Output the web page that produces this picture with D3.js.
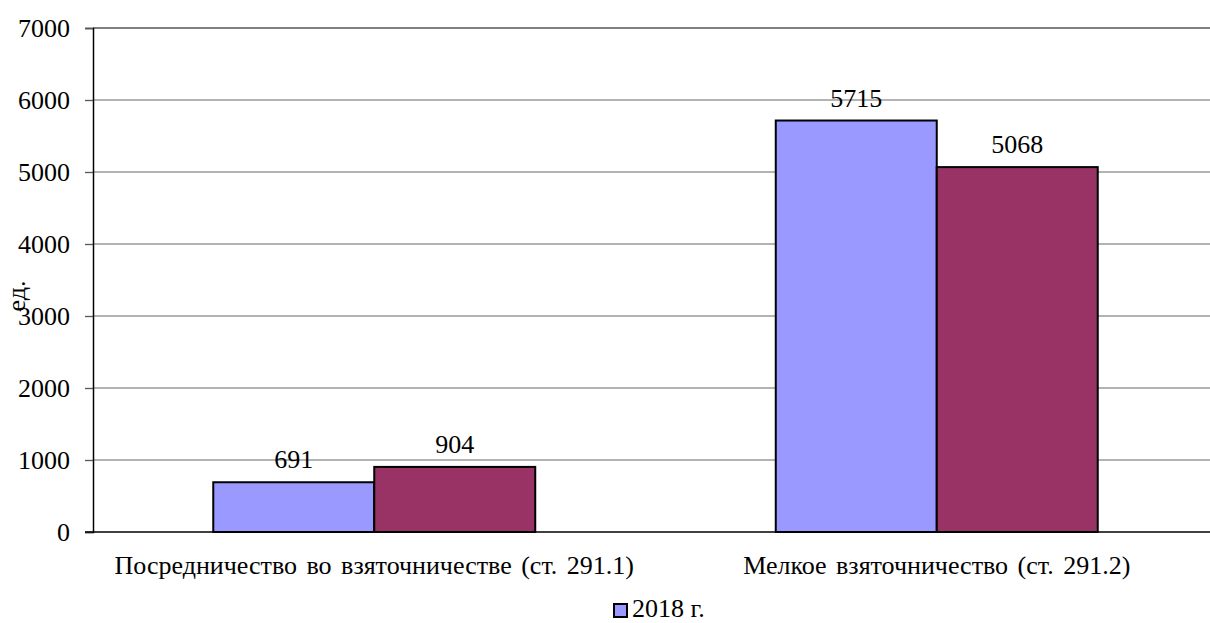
<!DOCTYPE html>
<html><head><meta charset="utf-8">
<script src="https://cdn.jsdelivr.net/npm/d3@7"></script>
<style>body{margin:0;background:#fff}svg{display:block}</style>
</head><body>
<svg id="c" width="1210" height="623"></svg>
<script>
const categories = ["Посредничество во взяточничестве (ст. 291.1)", "Мелкое взяточничество (ст. 291.2)"];
const series2018 = [691, 5715];
const series2019 = [904, 5068];
const yTicks = [0, 1000, 2000, 3000, 4000, 5000, 6000, 7000];
const legendLabel = "2018 г.";
const yLabel = "ед.";

const FONT = "Liberation Serif";
const FS = "26px";
const svg = d3.select("#c");
const L = 93, R = 1218, T = 28, B = 532;
const x = d3.scaleBand().domain(categories).range([L, R]);
const y = d3.scaleLinear().domain([0, 7000]).range([B, T]);
const bw = x.bandwidth() * 0.2862;

function styleText(sel) { return sel.style("font-family", FONT).style("font-size", FS).style("fill", "#000"); }

// gridlines
svg.append("g").selectAll("line").data(yTicks.filter(d => d > 0)).join("line")
  .attr("x1", L).attr("x2", 1210).attr("y1", d => y(d)).attr("y2", d => y(d))
  .attr("stroke", d => d === 7000 ? "#808080" : "#9a9a9a").attr("stroke-width", d => d === 7000 ? 2 : 1.3);

// y axis
const ya = svg.append("g").attr("transform", `translate(${L},0)`)
  .call(d3.axisLeft(y).tickValues(yTicks).tickSize(8).tickPadding(15).tickFormat(d3.format("d")));
ya.attr("font-family", FONT);
ya.select(".domain").attr("stroke", "#000").attr("stroke-width", 1.5);
ya.selectAll(".tick line").attr("stroke", "#555").attr("stroke-width", 1.3);
styleText(ya.selectAll("text"));

const series = [{vals: series2018, color: "#9999FF", off: -1}, {vals: series2019, color: "#993366", off: 0}];
series.forEach(s => {
  const g = svg.append("g");
  g.selectAll("rect").data(categories).join("rect")
    .attr("x", (c) => x(c) + x.bandwidth()/2 + s.off*bw)
    .attr("y", (c,i) => y(s.vals[i]))
    .attr("width", bw)
    .attr("height", (c,i) => B - y(s.vals[i]))
    .attr("fill", s.color).attr("stroke", "#000").attr("stroke-width", 2);
  styleText(g.selectAll("text").data(categories).join("text")
    .attr("x", (c) => x(c) + x.bandwidth()/2 + s.off*bw + bw/2)
    .attr("y", (c,i) => y(s.vals[i]) - 14)
    .attr("text-anchor", "middle")
    .text((c,i) => s.vals[i]));
});

// baseline
svg.append("line").attr("x1", L - 8).attr("x2", 1210).attr("y1", B).attr("y2", B)
  .attr("stroke", "#000").attr("stroke-width", 1.5);

// category labels
styleText(svg.append("g").selectAll("text").data(categories).join("text")
  .attr("x", c => x(c) + x.bandwidth()/2).attr("y", 574)
  .attr("text-anchor", "middle").style("word-spacing", "3px").text(c => c));

// y label
styleText(svg.append("text").attr("transform", "translate(25,296) rotate(-90)")
  .attr("text-anchor", "middle").text(yLabel));

// legend
svg.append("rect").attr("x", 614).attr("y", 604).attr("width", 13).attr("height", 13)
  .attr("fill", "#9999FF").attr("stroke", "#000").attr("stroke-width", 2);
styleText(svg.append("text").attr("x", 632).attr("y", 617).text(legendLabel));
</script>
</body></html>
